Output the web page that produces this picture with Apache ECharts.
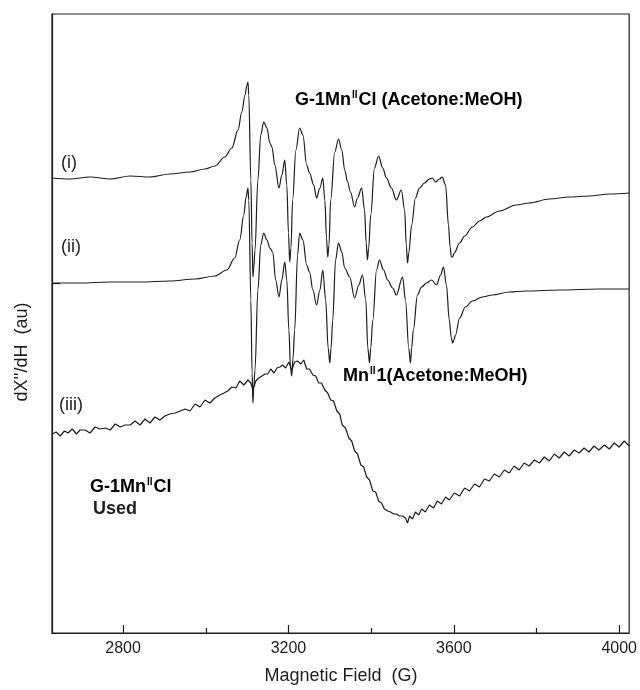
<!DOCTYPE html>
<html><head><meta charset="utf-8">
<script src="https://cdn.jsdelivr.net/npm/echarts@6.0.0/dist/echarts.min.js"></script>
<style>html,body{margin:0;padding:0;background:#fff}#c{width:640px;height:690px}</style>
</head><body><div id="c"></div>
<script>
// ---- data ----
const xMajorTicks = [2800, 3200, 3600, 4000];
const xMinorTicks = [3000, 3400, 3800];
const yTicks = [0];

// trace (i) G-1MnIICl (Acetone:MeOH)
const fieldI = [2629,2672,2720,2769,2817,2865,2913,2962,2998,3022,3046,3063,3078,3087,3095,3099,3102,3104,3109,3112,3114,3116,3119,3126,3133,3140,3148,3155,3160,3167,3177,3184,3191,3196,3200,3203,3206,3210,3218,3227,3235,3244,3251,3261,3268,3276,3283,3288,3292,3295,3298,3302,3312,3321,3329,3336,3343,3350,3360,3367,3377,3384,3388,3391,3394,3399,3408,3418,3428,3437,3449,3461,3473,3481,3485,3488,3491,3498,3507,3517,3529,3541,3548,3556,3565,3572,3580,3587,3591,3594,3597,3601,3614,3626,3645,3662,3679,3710,3751,3782,3831,3879,3927,3976,4024];
const valI   = [105,104,106,104,107,106,109,111,114,117,126,135,153,171,188,197,201,188,103,40,6,15,33,103,148,161,155,140,136,118,95,108,123,98,50,21,35,83,133,155,148,118,110,98,85,95,105,83,45,26,38,83,131,144,133,113,101,91,76,85,95,73,40,23,35,68,115,127,115,105,95,83,93,73,38,20,30,58,85,95,100,104,105,101,104,106,98,58,36,26,26,30,40,47,56,62,66,72,78,80,84,86,87,89,90];

// trace (ii) MnII1 (Acetone:MeOH)
const fieldII = [2629,2696,2769,2841,2913,2974,3022,3051,3070,3082,3092,3097,3102,3104,3109,3112,3114,3116,3119,3126,3133,3140,3148,3155,3162,3169,3177,3184,3191,3196,3201,3205,3208,3211,3215,3222,3227,3235,3244,3251,3259,3268,3276,3283,3290,3296,3300,3303,3307,3314,3321,3329,3336,3348,3360,3370,3379,3387,3392,3396,3399,3404,3413,3420,3430,3440,3452,3461,3476,3483,3491,3495,3498,3502,3512,3522,3534,3546,3558,3568,3575,3582,3589,3594,3597,3600,3604,3614,3628,3645,3669,3693,3734,3775,3855,3951,4024];
const valII   = [0,0,1,1,2,4,7,13,25,43,68,85,95,83,-17,-90,-120,-105,-87,-7,38,50,43,35,31,3,-14,3,21,3,-47,-85,-93,-75,-47,28,50,43,18,11,-7,-22,-7,13,-17,-65,-80,-65,-37,23,40,31,15,6,-15,-2,8,-17,-65,-80,-65,-37,13,23,13,3,-5,-12,6,-17,-65,-80,-65,-47,-12,-4,0,3,-2,8,16,-2,-37,-55,-60,-57,-52,-35,-24,-18,-14,-12,-9,-8,-7,-6,-6];

// trace (iii) G-1MnIICl used
const fieldIII = [2629,2638,2648,2658,2667,2677,2687,2696,2708,2720,2732,2744,2757,2769,2781,2793,2805,2817,2829,2841,2853,2865,2877,2889,2901,2913,2926,2938,2950,2962,2974,2986,2998,3010,3022,3034,3044,3053,3063,3073,3082,3092,3102,3109,3114,3121,3128,3136,3143,3150,3157,3165,3172,3179,3186,3193,3201,3208,3215,3222,3230,3237,3244,3251,3259,3266,3273,3280,3288,3295,3302,3309,3317,3324,3330,3338,3346,3353,3360,3367,3375,3382,3389,3396,3404,3411,3418,3425,3432,3440,3447,3454,3461,3469,3476,3483,3488,3493,3500,3507,3515,3522,3531,3541,3551,3560,3570,3580,3589,3601,3614,3626,3638,3650,3662,3674,3686,3698,3710,3722,3734,3746,3758,3770,3782,3795,3807,3819,3831,3843,3855,3867,3879,3891,3903,3915,3927,3939,3951,3964,3976,3988,4000,4012,4024];
const valIII   = [-151,-149,-153,-148,-150,-146,-151,-147,-147,-150,-144,-146,-145,-147,-141,-144,-142,-142,-138,-142,-136,-140,-134,-137,-133,-131,-130,-128,-126,-128,-121,-124,-117,-120,-115,-112,-110,-108,-104,-105,-98,-102,-97,-100,-107,-98,-95,-93,-91,-91,-86,-90,-85,-84,-82,-85,-79,-87,-79,-78,-81,-77,-86,-86,-92,-93,-100,-100,-107,-110,-117,-118,-128,-131,-142,-145,-155,-158,-168,-171,-182,-184,-194,-197,-208,-209,-218,-220,-226,-228,-229,-231,-231,-233,-233,-235,-240,-233,-236,-229,-232,-226,-229,-222,-225,-218,-221,-214,-217,-210,-213,-205,-208,-201,-204,-196,-198,-191,-194,-187,-190,-183,-187,-180,-183,-177,-180,-174,-178,-171,-175,-169,-173,-167,-170,-165,-169,-163,-167,-162,-166,-160,-164,-158,-163];

// ---- chart ----
const FONT = '"Liberation Sans", Arial, sans-serif';
const INK = '#1e1e1e';
const pairs = (xs, ys) => xs.map((x, k) => [x, ys[k]]);
const chart = echarts.init(document.getElementById('c'), null, {renderer: 'canvas'});

const lineSeries = (name, xs, ys, smooth) => ({
  name, type: 'line', data: pairs(xs, ys), showSymbol: false, symbol: 'none',
  smooth: smooth ? 0.35 : false, smoothMonotone: smooth ? 'x' : undefined,
  lineStyle: {color: INK, width: 1.2}, silent: true, z: 3
});

const supRich = {
  b: {fontFamily: FONT, fontWeight: 'bold', fontSize: 18, color: INK},
  s: {fontFamily: FONT, fontWeight: 'bold', fontSize: 10, color: INK, verticalAlign: 'top', padding: [0, 1, 10, 1]}
};

chart.setOption({
  animation: false,
  backgroundColor: '#fff',
  grid: {left: 52, right: 10, top: 14, bottom: 57, show: true, borderColor: INK, borderWidth: 1.2, backgroundColor: 'transparent'},
  xAxis: [{
    type: 'value', min: 2628, max: 4024, position: 'bottom',
    axisLine: {show: true, onZero: false, lineStyle: {color: INK, width: 1.2}},
    axisTick: {show: true, inside: true, length: 8, customValues: xMajorTicks, lineStyle: {color: INK, width: 1.2}},
    axisLabel: {show: true, customValues: xMajorTicks, formatter: v => String(v), fontSize: 16, fontFamily: FONT, color: INK, margin: 8},
    splitLine: {show: false}
  }, {
    type: 'value', min: 2628, max: 4024, position: 'bottom',
    axisLine: {show: false, onZero: false},
    axisTick: {show: true, inside: true, length: 5, customValues: xMinorTicks, lineStyle: {color: INK, width: 1.2}},
    axisLabel: {show: false},
    splitLine: {show: false}
  }],
  yAxis: {
    type: 'value', min: -350, max: 269,
    axisLine: {show: true, onZero: false, lineStyle: {color: INK, width: 1.2}},
    axisTick: {show: true, inside: true, length: 8, customValues: yTicks, lineStyle: {color: INK, width: 1.2}},
    axisLabel: {show: false},
    splitLine: {show: false}
  },
  series: [
    lineSeries('(i)', fieldI, valI, true),
    lineSeries('(ii)', fieldII, valII, true),
    lineSeries('(iii)', fieldIII, valIII, false)
  ],
  graphic: [
    {type: 'text', x: 61, y: 163, style: {text: '(i)', font: '18px ' + FONT, fill: INK, verticalAlign: 'middle'}},
    {type: 'text', x: 61, y: 247, style: {text: '(ii)', font: '18px ' + FONT, fill: INK, verticalAlign: 'middle'}},
    {type: 'text', x: 59, y: 405, style: {text: '(iii)', font: '18px ' + FONT, fill: INK, verticalAlign: 'middle'}},
    {type: 'text', x: 295, y: 100, style: {text: '{b|G-1Mn}{s|II}{b|Cl (Acetone:MeOH)}', rich: supRich, verticalAlign: 'middle'}},
    {type: 'text', x: 343, y: 376, style: {text: '{b|Mn}{s|II}{b|1(Acetone:MeOH)}', rich: supRich, verticalAlign: 'middle'}},
    {type: 'text', x: 90, y: 487, style: {text: '{b|G-1Mn}{s|II}{b|Cl}', rich: supRich, verticalAlign: 'middle'}},
    {type: 'text', x: 93, y: 509, style: {text: 'Used', font: 'bold 18px ' + FONT, fill: INK, verticalAlign: 'middle'}},
    {type: 'text', x: 341, y: 676, style: {text: 'Magnetic Field  (G)', font: '18px ' + FONT, fill: INK, align: 'center', verticalAlign: 'middle'}},
    {type: 'text', x: 22, y: 352, rotation: Math.PI / 2, style: {text: "dX''/dH  (au)", font: '18px ' + FONT, fill: INK, align: 'center', verticalAlign: 'middle'}}
  ]
});
</script></body></html>
